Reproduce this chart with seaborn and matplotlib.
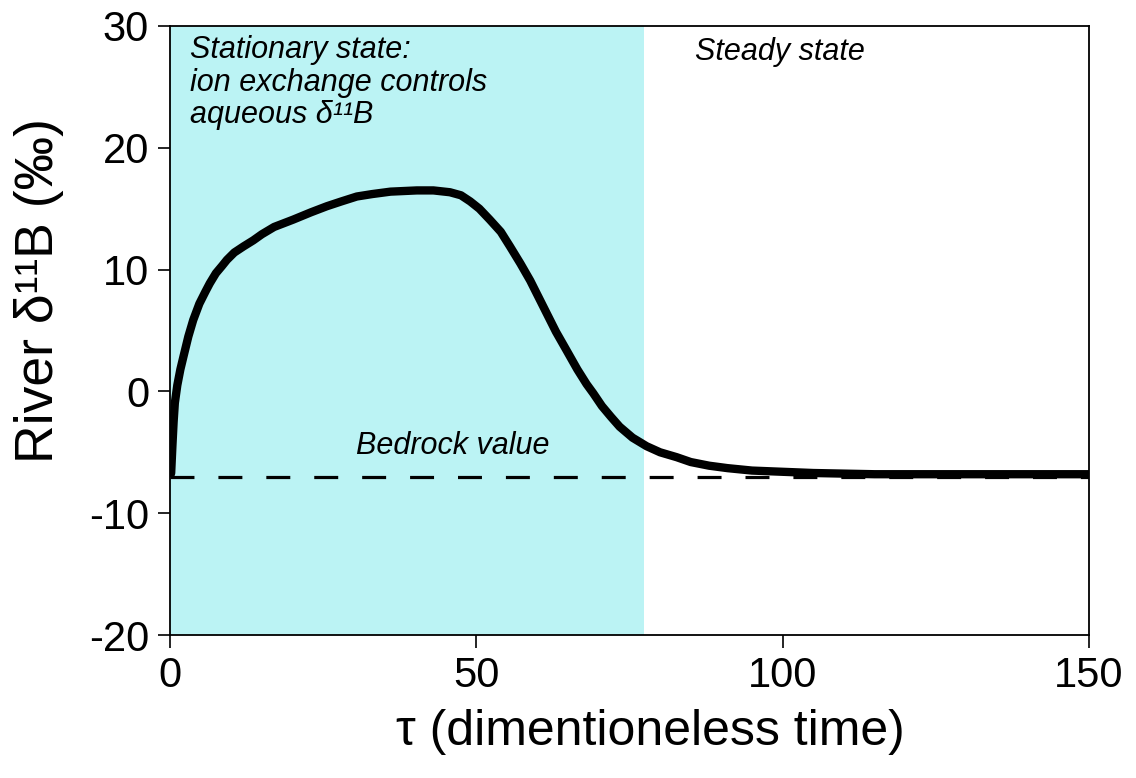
import numpy as np
import pandas as pd
import seaborn as sns
import matplotlib.pyplot as plt

# River d11B model curve
tau = [0.0, 0.2, 0.4, 0.6, 0.8, 1.2, 1.7, 2.2, 3.0, 3.8, 4.8, 5.8, 6.5, 7.5, 8.5,
       9.3, 10.5, 12.0, 13.6, 15.0, 17.0, 20.1, 23.0, 25.6, 28.0, 30.5, 33.0,
       36.0, 40.3, 43.0, 45.7, 47.5, 49.0, 50.5, 52.2, 54.0, 55.5, 57.2, 58.8,
       60.2, 61.5, 63.0, 64.7, 66.5, 68.0, 69.1, 70.5, 72.0, 73.4, 75.5, 77.8,
       80.0, 82.7, 85.0, 88.0, 91.0, 95.0, 100.0, 105.0, 115.0, 130.0, 150.0]
delta = [-7.0, -6.7, -4.5, -2.5, -0.95, 0.5, 1.8, 2.85, 4.5, 5.86, 7.2, 8.2, 8.87,
         9.7, 10.3, 10.8, 11.4, 11.9, 12.4, 12.9, 13.5, 14.1, 14.7, 15.2, 15.6,
         16.0, 16.2, 16.4, 16.5, 16.5, 16.35, 16.1, 15.6, 15.0, 14.1, 13.1, 11.9,
         10.5, 9.1, 7.7, 6.4, 4.9, 3.4, 1.8, 0.6, -0.16, -1.2, -2.1, -2.9, -3.8,
         -4.5, -5.0, -5.4, -5.8, -6.1, -6.3, -6.5, -6.6, -6.7, -6.8, -6.8, -6.8]

bedrock = -7.0
stationary_end = 77.3

df = pd.DataFrame({'tau': tau, 'delta': delta})

sns.set_style('ticks')
plt.rcParams['font.family'] = ['Liberation Sans', 'DejaVu Sans']
plt.rcParams['axes.unicode_minus'] = False
plt.rcParams['text.color'] = 'black'
plt.rcParams['axes.labelcolor'] = 'black'
plt.rcParams['xtick.color'] = 'black'
plt.rcParams['ytick.color'] = 'black'

fig = plt.figure(figsize=(11.36, 7.78), dpi=100)
ax = fig.add_axes([0.1496, 0.1838, 0.809, 0.7828])

# shaded stationary-state window
ax.axvspan(0, stationary_end, color='#bbf3f4', lw=0, zorder=0)

# bedrock value
ax.plot([0, 150], [bedrock, bedrock], color='black', lw=2.3,
        dashes=(7.5, 7.5), zorder=1)

sns.lineplot(data=df, x='tau', y='delta', color='black', lw=6,
             estimator=None, sort=False, ax=ax, zorder=2,
             solid_joinstyle='round', solid_capstyle='butt')

ax.set_xlim(0, 150)
ax.set_ylim(-20, 30)
ax.set_xticks([0, 50, 100, 150])
ax.set_yticks([-20, -10, 0, 10, 20, 30])
ax.tick_params(labelsize=30, length=9, width=1.2, pad=6)
for s in ax.spines.values():
    s.set_linewidth(1.3)
    s.set_color('black')

ax.set_xlabel('τ (dimentioneless time)', fontsize=36)
ax.set_ylabel('River δ¹¹B (‰)', fontsize=38.5)
ax.xaxis.set_label_coords(0.523, -0.122)
ax.yaxis.set_label_coords(-0.115, 0.565)

ax.text(3.3, 29.3, 'Stationary state:\nion exchange controls\naqueous δ¹¹B',
        fontsize=22, style='italic', va='top', ha='left', linespacing=1.13)
ax.text(85.7, 27.9, 'Steady state', fontsize=22, style='italic', va='center', ha='left')
ax.text(46.2, -4.5, 'Bedrock value', fontsize=22, style='italic', va='center', ha='center')

plt.savefig('out.png', dpi=100)
